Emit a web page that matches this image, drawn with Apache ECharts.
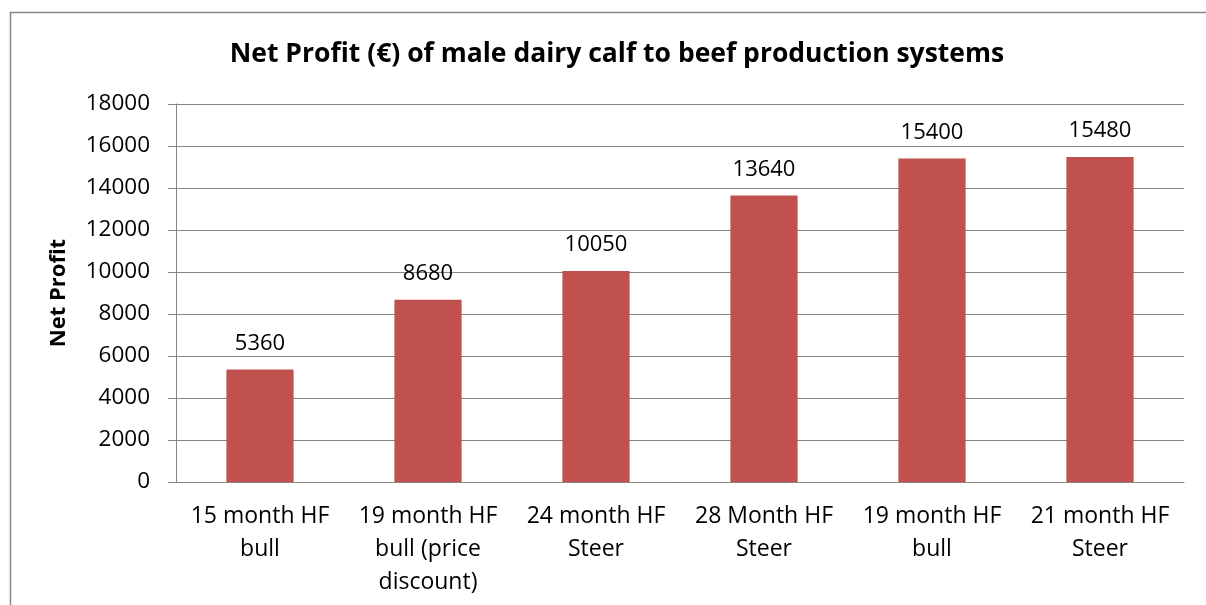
<!DOCTYPE html>
<html>
<head>
<meta charset="utf-8">
<script src="https://cdn.jsdelivr.net/npm/echarts@6/dist/echarts.min.js"></script>
<style>
html,body{margin:0;padding:0;background:#fff;}
#chart{width:1206px;height:605px;}
</style>
</head>
<body>
<div id="chart"></div>
<script>
const titleText = "Net Profit (€) of male dairy calf to beef production systems";
const yAxisName = "Net Profit";
const categories = [
  "15 month HF\nbull",
  "19 month HF\nbull (price\ndiscount)",
  "24 month HF\nSteer",
  "28 Month HF\nSteer",
  "19 month HF\nbull",
  "21 month HF\nSteer"
];
const netProfit = [5360, 8680, 10050, 13640, 15400, 15480];
const yMin = 0, yMax = 18000, yStep = 2000;

const FONT = "Open Sans";
const chart = echarts.init(document.getElementById('chart'), null, {renderer: 'canvas'});
chart.setOption({
  animation: false,
  backgroundColor: '#ffffff',
  textStyle: {fontFamily: FONT, color: '#000'},
  title: {
    text: titleText,
    left: 612, top: 36, textAlign: 'center',
    textStyle: {fontFamily: FONT, fontWeight: 'bold', fontSize: 26.5, color: '#000'}
  },
  graphic: [{
    type: 'rect', silent: true,
    shape: {x: 10.5, y: 12.5, width: 1220, height: 620},
    style: {fill: 'none', stroke: '#888888', lineWidth: 1.5}
  }],
  grid: {left: 176, right: 22, top: 104, bottom: 123, containLabel: false},
  xAxis: {
    type: 'category',
    data: categories,
    axisLine: {show: true, lineStyle: {color: '#868686', width: 1}},
    axisTick: {show: false},
    axisLabel: {color: '#000', fontFamily: FONT, fontSize: 23, lineHeight: 33, margin: 18, interval: 0, align: 'center'}
  },
  yAxis: {
    type: 'value',
    min: yMin, max: yMax, interval: yStep,
    name: yAxisName,
    nameLocation: 'middle',
    nameRotate: 90,
    nameGap: 106,
    nameTextStyle: {fontFamily: FONT, fontWeight: 'bold', fontSize: 22, color: '#000'},
    axisLine: {show: true, lineStyle: {color: '#868686', width: 1}},
    axisTick: {show: true, inside: false, length: 8, lineStyle: {color: '#868686'}},
    axisLabel: {color: '#000', fontFamily: FONT, fontSize: 22.5, margin: 26, formatter: v => String(v)},
    splitLine: {show: true, lineStyle: {color: '#868686', width: 1}}
  },
  series: [{
    type: 'bar',
    data: netProfit,
    barWidth: '40%',
    itemStyle: {color: '#C0504D'},
    label: {show: true, position: 'top', distance: 15, color: '#000', fontFamily: FONT, fontSize: 22}
  }]
});
</script>
</body>
</html>
